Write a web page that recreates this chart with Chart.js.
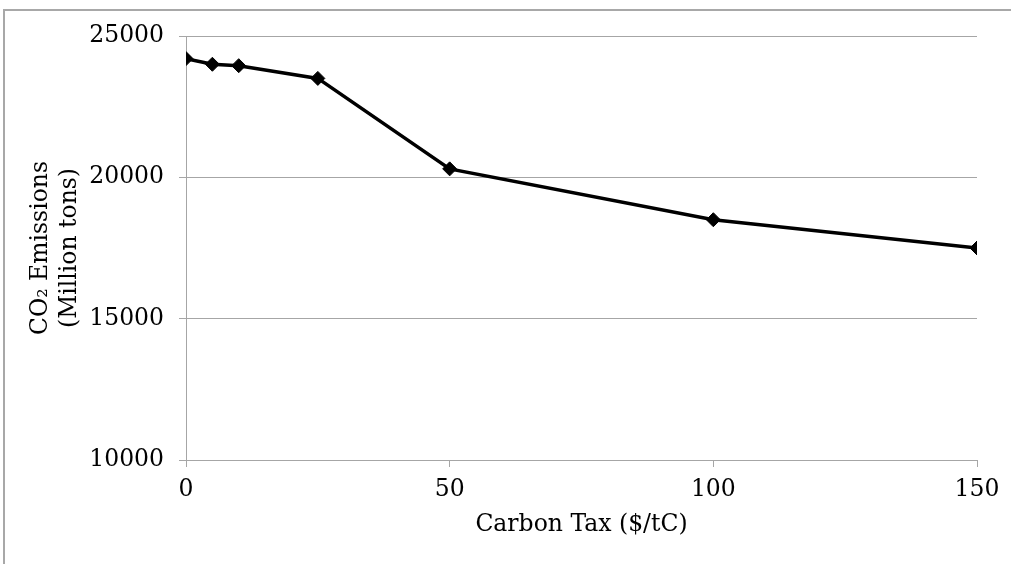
<!DOCTYPE html>
<html lang="en">
<head>
    <meta charset="UTF-8">
    <title>Carbon Tax vs CO2 Emissions</title>
    <script src="https://cdn.jsdelivr.net/npm/chart.js"></script>
    <style>
        html, body {
            margin: 0;
            padding: 0;
            background: #fff;
            overflow: hidden;
        }
        #frame {
            position: absolute;
            left: 3px;
            top: 9px;
            width: 2000px;
            height: 2000px;
            border-left: 2px solid #a8a8a8;
            border-top: 2px solid #a8a8a8;
        }
        #wrap {
            position: absolute;
            left: 0;
            top: 0;
            width: 1011px;
            height: 564px;
        }
    </style>
</head>
<body>
    <div id="frame"></div>
    <div id="wrap"><canvas id="grafico"></canvas></div>

    <script>
        // data
        const carbonTax = [0, 5, 10, 25, 50, 100, 150];
        const emissions = [24200, 24000, 23950, 23500, 20300, 18500, 17500];
        const yTicks = [10000, 15000, 20000, 25000];
        const xTicks = [0, 50, 100, 150];

        const gridGrey = '#a6a6a6';
        const serif = "'DejaVu Serif', serif";

        const ctx = document.getElementById('grafico').getContext('2d');

        new Chart(ctx, {
            type: 'line',
            data: {
                datasets: [{
                    data: carbonTax.map((x, i) => ({ x: x, y: emissions[i] })),
                    borderColor: '#000',
                    backgroundColor: '#000',
                    borderWidth: 3.5,
                    tension: 0,
                    pointStyle: 'rectRot',
                    pointRadius: 7,
                    pointBorderWidth: 1,
                    pointBackgroundColor: '#000',
                    pointBorderColor: '#000'
                }]
            },
            options: {
                responsive: true,
                maintainAspectRatio: false,
                animation: false,
                layout: {
                    padding: { left: 0, right: 34, top: 36, bottom: 0 }
                },
                plugins: {
                    legend: { display: false },
                    tooltip: { enabled: false }
                },
                scales: {
                    x: {
                        type: 'linear',
                        min: 0,
                        max: 150,
                        afterBuildTicks: (scale) => {
                            scale.ticks = xTicks.map(v => ({ value: v }));
                        },
                        afterFit: (scale) => { scale.height = 104; },
                        grid: {
                            drawOnChartArea: false,
                            drawTicks: true,
                            tickLength: 7,
                            color: gridGrey
                        },
                        border: { color: gridGrey },
                        ticks: {
                            color: '#000',
                            padding: 9,
                            maxRotation: 0,
                            font: { family: serif, size: 23.5 }
                        },
                        title: {
                            display: true,
                            text: 'Carbon Tax ($/tC)',
                            color: '#000',
                            padding: { top: 0, bottom: 25 },
                            font: { family: serif, size: 23.5 }
                        }
                    },
                    y: {
                        min: 10000,
                        max: 25000,
                        afterBuildTicks: (scale) => {
                            scale.ticks = yTicks.map(v => ({ value: v }));
                        },
                        afterFit: (scale) => { scale.width = 186; },
                        grid: {
                            drawTicks: true,
                            tickLength: 7,
                            color: gridGrey
                        },
                        border: { color: gridGrey },
                        ticks: {
                            color: '#000',
                            padding: 15,
                            callback: (v) => String(v),
                            font: { family: serif, size: 23.5 }
                        },
                        title: {
                            display: true,
                            text: ['CO\u2082 Emissions', '(Million tons)'],
                            color: '#000',
                            padding: { top: 26, bottom: 0 },
                            font: { family: serif, size: 23.5, lineHeight: 1.25 }
                        }
                    }
                }
            }
        });
    </script>
</body>
</html>
